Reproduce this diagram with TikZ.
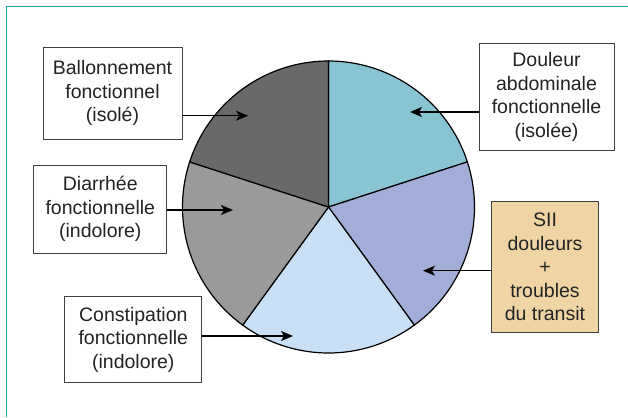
\documentclass[tikz,border=0pt]{standalone}
\usepackage{fontspec}
\setmainfont{Liberation Sans}
\usetikzlibrary{arrows.meta}

\definecolor{frameteal}{RGB}{20,170,165}
\definecolor{sliceDoul}{RGB}{136,196,212}
\definecolor{sliceSII}{RGB}{163,174,216}
\definecolor{sliceCons}{RGB}{201,223,245}
\definecolor{sliceDiar}{RGB}{154,154,154}
\definecolor{sliceBall}{RGB}{105,105,105}
\definecolor{boxtan}{RGB}{240,212,166}
\definecolor{txtgray}{RGB}{35,35,35}

\tikzset{
	labelbox/.style={draw=black!75, line width=0.9pt, fill=white, align=center, inner sep=0pt,
		font=\fontsize{19.5}{23.5}\selectfont, text=txtgray},
	pointer/.style={-{Stealth[length=12pt,width=10pt,inset=3pt]}, line width=1.4pt, black},
	slice/.style={draw=black, line width=1.2pt}
}

\begin{document}
\begin{tikzpicture}[x=1pt,y=1pt]
	\useasboundingbox (0,0) rectangle (628,-417);
	\draw[frameteal, line width=1.5pt] (6.5,-417) -- (6.5,-6.5) -- (628,-6.5);
	
	% pie
	\coordinate (c) at (328.5,-207);
	\filldraw[slice, fill=sliceDoul] (c) -- ++(90:146) arc[start angle=90, end angle=18, radius=146] -- cycle;
	\filldraw[slice, fill=sliceSII] (c) -- ++(18:146) arc[start angle=18, end angle=-54, radius=146] -- cycle;
	\filldraw[slice, fill=sliceCons] (c) -- ++(-54:146) arc[start angle=-54, end angle=-126, radius=146] -- cycle;
	\filldraw[slice, fill=sliceDiar] (c) -- ++(-126:146) arc[start angle=-126, end angle=-198, radius=146] -- cycle;
	\filldraw[slice, fill=sliceBall] (c) -- ++(162:146) arc[start angle=162, end angle=90, radius=146] -- cycle;
	
	% boxes
	\node[labelbox, minimum width=139, minimum height=92] (ballon) at (112.5,-93)
	{Ballonnement\\fonctionnel\\(isolé)};
	\node[labelbox, minimum width=135, minimum height=107] (douleur) at (546.5,-97)
	{Douleur\\abdominale\\fonctionnelle\\(isolée)};
	\node[labelbox, fill=boxtan, minimum width=107, minimum height=131] (sii) at (545,-267)
	{SII\\douleurs\\+\\troubles\\du transit};
	\node[labelbox, minimum width=133, minimum height=88] (diarrhee) at (100.3,-209)
	{Diarrhée\\fonctionnelle\\(indolore)};
	\node[labelbox, minimum width=137, minimum height=86] (constip) at (133.3,-339.5)
	{Constipation\\fonctionnelle\\(indolore)};
	
	% arrows
	\coordinate (ballonTip) at (248,-115.7);
	\coordinate (douleurTip) at (410,-112);
	\coordinate (diarrheeTip) at (233,-210);
	\coordinate (siiTip) at (423,-270.7);
	\coordinate (constipTip) at (293,-336);
	
	\draw[pointer] (ballon.east |- ballonTip) -- (ballonTip);
	\draw[pointer] (douleur.west |- douleurTip) -- (douleurTip);
	\draw[pointer] (diarrhee.east |- diarrheeTip) -- (diarrheeTip);
	\draw[pointer] (sii.west |- siiTip) -- (siiTip);
	\draw[pointer] (constip.east |- constipTip) -- (constipTip);
	
\end{tikzpicture}
\end{document}
